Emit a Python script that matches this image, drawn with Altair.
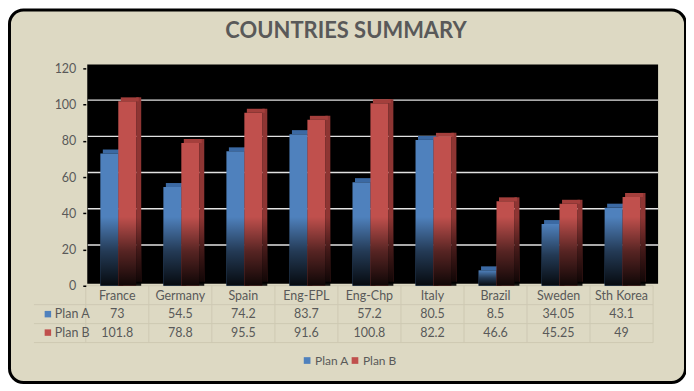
import altair as alt
import pandas as pd

countries = ["France", "Germany", "Spain", "Eng-EPL", "Eng-Chp", "Italy", "Brazil", "Sweden", "Sth Korea"]
plan_a = [73, 54.5, 74.2, 83.7, 57.2, 80.5, 8.5, 34.05, 43.1]
plan_b = [101.8, 78.8, 95.5, 91.6, 100.8, 82.2, 46.6, 45.25, 49]
series = ["Plan A", "Plan B"]
colors = ["#4F81BD", "#C0504D"]
side_colors = ["#2F5C92", "#8E3533"]
top_colors = ["#3B69A3", "#A43F3C"]
y_ticks = [0, 20, 40, 60, 80, 100, 120]
grid_vals = [20, 40, 60, 80, 100]
title_text = "COUNTRIES SUMMARY"

W, H = 569, 218
STEP = W / len(countries)
BG = "#DDD9C3"
TXT = "#595959"
FONT = "Lato"
FS = 12.5

rows = []
for s, vals in zip(series, [plan_a, plan_b]):
    for c, v in zip(countries, vals):
        rows.append({"series": s, "country": c, "value": v, "label": f"{v:g}"})
df = pd.DataFrame(rows)

xs = alt.Scale(domain=countries, paddingInner=0, paddingOuter=0)
ys = alt.Scale(domain=[0, 120])
cs = alt.Scale(domain=series, range=colors)
X = alt.X("country:N", sort=countries, scale=xs, axis=None)
YAX = alt.Axis(values=y_ticks, grid=False, domain=False, tickSize=3,
               tickColor="black", tickWidth=1.5, labelPadding=7, zindex=2,
               labelColor=TXT, labelFont=FONT, labelFontSize=FS)
Y = alt.Y("value:Q", scale=ys, title=None, axis=YAX)
LEG = alt.Legend(title=None, orient="none", legendX=216, legendY=287,
                 direction="horizontal", symbolType="square",
                 symbolSize=45, symbolStrokeWidth=0,
                 labelFont=FONT, labelFontSize=12,
                 labelColor=TXT, columnPadding=0, padding=0,
                 labelOffset=2, zindex=2)
C = alt.Color("series:N", scale=cs, legend=LEG)

one = pd.DataFrame({"k": [0]})

frame = alt.Chart(one).mark_rect(cornerRadius=14, fill=BG, stroke="black", strokeWidth=3).encode(
    x=alt.value(-76.5), x2=alt.value(601.5), y=alt.value(-58.5), y2=alt.value(315))
wall = alt.Chart(one).mark_rect(fill="black").encode(
    x=alt.value(1.5), x2=alt.value(574), y=alt.value(-4), y2=alt.value(H - 2))
title = alt.Chart(pd.DataFrame({"t": [title_text]})).mark_text(
    font=FONT, fontSize=22, fontWeight="bold", color=TXT, align="center", baseline="middle").encode(
    x=alt.value(261), y=alt.value(-37), text="t:N")

grid = alt.Chart(pd.DataFrame({"value": grid_vals})).mark_rule(
    color="#E2E2E2", strokeWidth=1.4, yOffset=-4.5).encode(
    y=Y, x=alt.value(2), x2=alt.value(574))

# data table lines
tl_color = "#CEC9B3"
hlines = []
for yy, x0 in zip([218, 237, 256, 275], [0, -52, -52, -52]):
    hlines.append(alt.Chart(one).mark_rule(color=tl_color, strokeWidth=1).encode(
        y=alt.value(yy), x=alt.value(x0), x2=alt.value(W)))
vlines = alt.Chart(pd.DataFrame({"country": countries})).mark_rule(
    color=tl_color, strokeWidth=1, xOffset=-STEP / 2).encode(
    x=X, y=alt.value(218), y2=alt.value(275))
vlast = alt.Chart(one).mark_rule(color=tl_color, strokeWidth=1).encode(
    x=alt.value(W), y=alt.value(218), y2=alt.value(275))

cat_text = alt.Chart(pd.DataFrame({"country": countries})).mark_text(
    font=FONT, fontSize=FS, color=TXT, baseline="middle").encode(
    x=X, y=alt.value(228), text="country:N")

row_y = {"Plan A": 246.5, "Plan B": 265}
table_layers = []
for s in series:
    table_layers.append(
        alt.Chart(df).transform_filter(alt.datum.series == s).mark_text(
            font=FONT, fontSize=FS, color=TXT, baseline="middle").encode(
            x=X, y=alt.value(row_y[s]), text="label:N"))
    kdf = pd.DataFrame({"series": [s]})
    table_layers.append(alt.Chart(kdf).mark_square(size=42, opacity=1).encode(
        x=alt.value(-38), y=alt.value(row_y[s]), color=C))
    table_layers.append(alt.Chart(kdf).mark_text(
        font=FONT, fontSize=FS, color=TXT, align="left", baseline="middle").encode(
        x=alt.value(-31), y=alt.value(row_y[s]), text="series:N"))

fade_grad = alt.Gradient(
    gradient="linear", x1=0, x2=0, y1=0, y2=1,
    stops=[alt.GradientStop(color="rgba(0,0,0,0)", offset=0),
           alt.GradientStop(color="rgba(0,0,0,0.55)", offset=0.5),
           alt.GradientStop(color="rgba(0,0,0,0.92)", offset=1)])

bar_layers = []
offsets = [-8, 10]
for i, s in enumerate(series):
    base = alt.Chart(df).transform_filter(alt.datum.series == s)
    off = offsets[i]
    side = base.mark_bar(width=5, xOffset=off + 11.5, yOffset=-4, y2Offset=-4,
                         color=side_colors[i]).encode(x=X, y=Y)
    top = base.mark_bar(width=18, xOffset=off + 2.5, yOffset=-4,
                        color=top_colors[i]).encode(x=X, y=Y, y2="value:Q")
    front = base.mark_bar(width=18, xOffset=off).encode(x=X, y=Y, color=C)
    fade = base.transform_calculate(fade="min(datum.value, 38)").mark_bar(
        width=23, xOffset=off + 2.5, color=fade_grad).encode(
        x=X, y=alt.Y("fade:Q", scale=ys, title=None, axis=YAX), y2=alt.datum(0))
    bar_layers += [side, top, front, fade]

chart = alt.layer(
    frame, wall, title, grid, *hlines, vlines, vlast, cat_text, *table_layers,
    *bar_layers
).properties(
    width=W, height=H,
    autosize=alt.AutoSizeParams(type="none"),
    padding={"left": 78, "top": 60, "right": 33, "bottom": 98},
    background="white",
).configure_view(stroke=None, fill=None).configure_legend(symbolOpacity=1)

chart.save("out.html", embed_options={"renderer": "svg", "actions": False})
